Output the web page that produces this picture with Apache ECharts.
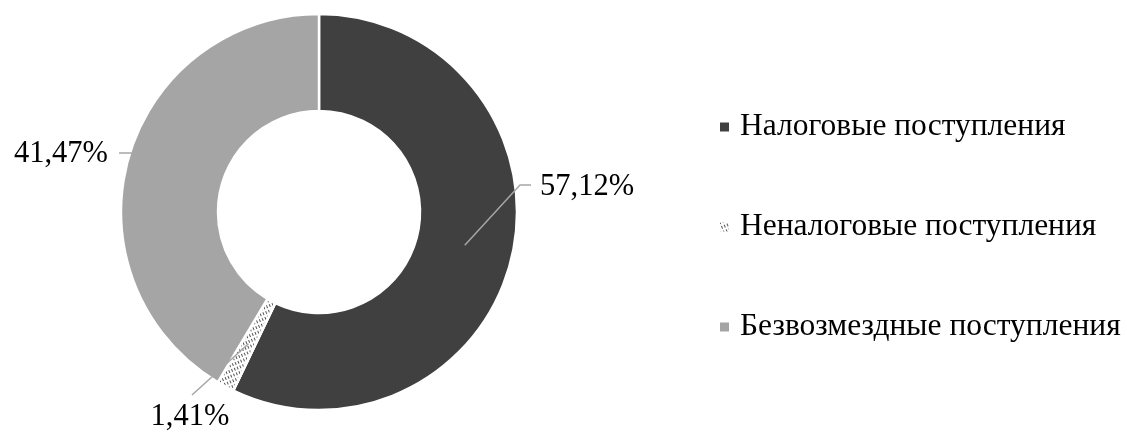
<!DOCTYPE html>
<html>
<head>
<meta charset="utf-8">
<script src="https://cdn.jsdelivr.net/npm/echarts@6/dist/echarts.min.js"></script>
<style>
  html, body { margin: 0; padding: 0; background: #fff; }
  #chart { width: 1127px; height: 432px; }
</style>
</head>
<body>
<div id="chart"></div>
<script>
const categories = ['Налоговые поступления', 'Неналоговые поступления', 'Безвозмездные поступления'];
const shares = [57.12, 1.41, 41.47];
const sliceColors = ['#404040', '#ffffff', '#a5a5a5'];

const CENTER = [319, 212];
const R_IN = 101, R_OUT = 198;
const FONT = 'Liberation Serif, Times New Roman, serif';

// label placement (layout, not data)
const labelPlace = [
  { x: 540, y: 187, align: 'left', bend: [520, 185], end: [531, 185] },
  { x: 190, y: 417, align: 'center', bend: [192, 395], end: [192, 395] },
  { x: 108, y: 154, align: 'right', bend: [140, 153], end: [119, 153] }
];

function fmt(v) { return v.toFixed(2).replace('.', ',') + '%'; }

function midPoint(idx) {
  const total = shares.reduce((a, b) => a + b, 0);
  let before = 0;
  for (let i = 0; i < idx; i++) before += shares[i];
  const frac = (before + shares[idx] / 2) / total;
  const ang = frac * 2 * Math.PI; // clockwise from top
  const r = (R_IN + R_OUT) / 2;
  return [CENTER[0] + r * Math.sin(ang), CENTER[1] - r * Math.cos(ang)];
}

const chart = echarts.init(document.getElementById('chart'), null, { renderer: 'canvas' });

const data = categories.map((name, i) => {
  const item = { name: name, value: shares[i], itemStyle: { color: sliceColors[i] } };
  if (i === 1) {
    item.itemStyle.decal = {
      symbol: 'rect',
      symbolSize: 1,
      color: '#555555',
      backgroundColor: '#ffffff',
      dashArrayX: [1, 2],
      dashArrayY: [3, 2],
      rotation: -0.4
    };
  }
  return item;
});

const labelData = categories.map((name, i) => ({ name: name, value: shares[i] }));

chart.setOption({
  backgroundColor: '#ffffff',
  animation: false,
  legend: {
    orient: 'vertical',
    left: 718,
    top: 110,
    padding: 0,
    itemWidth: 11,
    itemHeight: 11,
    itemGap: 66,
    icon: 'rect',
    data: categories,
    textStyle: {
      fontFamily: FONT,
      fontSize: 31.5,
      color: '#000',
      lineHeight: 34,
      padding: [0, 0, 0, 5]
    }
  },
  series: [{
    type: 'pie',
    z: 2,
    center: CENTER,
    radius: [R_IN, R_OUT],
    startAngle: 90,
    clockwise: true,
    avoidLabelOverlap: false,
    itemStyle: { borderColor: '#ffffff', borderWidth: 2.5 },
    label: { show: false },
    labelLine: { show: false },
    emphasis: { disabled: true },
    data: data
  }, {
    type: 'pie',
    z: 5,
    silent: true,
    center: CENTER,
    radius: [R_IN, R_OUT],
    startAngle: 90,
    clockwise: true,
    avoidLabelOverlap: false,
    itemStyle: { color: 'rgba(0,0,0,0)', borderWidth: 0 },
    label: {
      show: true,
      position: 'outside',
      formatter: p => fmt(p.value),
      fontFamily: FONT,
      fontSize: 30.5,
      color: '#000'
    },
    labelLine: {
      show: true,
      length: 10,
      length2: 10,
      lineStyle: { color: '#a6a6a6', width: 1.5 }
    },
    labelLayout: function (params) {
      const i = params.dataIndex;
      const L = labelPlace[i];
      const s = midPoint(i);
      return {
        x: L.x,
        y: L.y,
        align: L.align,
        verticalAlign: 'middle',
        labelLinePoints: [s, L.bend, L.end]
      };
    },
    emphasis: { disabled: true },
    tooltip: { show: false },
    data: labelData
  }]
});
</script>
</body>
</html>
